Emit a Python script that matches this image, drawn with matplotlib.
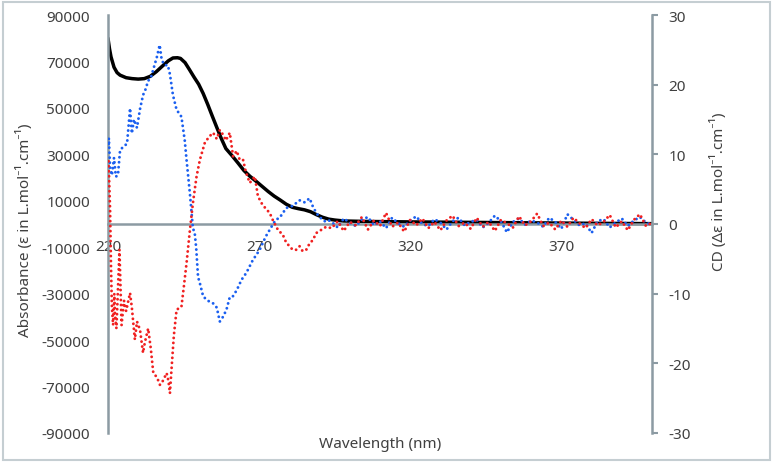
import matplotlib.pyplot as plt
from matplotlib.patches import Rectangle

plt.rcParams['font.family'] = ['Noto Sans', 'DejaVu Sans']
plt.rcParams['axes.unicode_minus'] = False

# absorbance (left axis)
abs_wl = [220, 220.5, 221, 222, 223, 224, 226, 228, 230, 232, 234, 236, 238, 240,
          241.5, 243, 244, 245.5, 247, 248.5, 250, 251.5, 253, 254.5, 256, 257.5,
          259, 261, 263, 265, 267, 269, 271, 273, 275, 277, 279, 281, 283, 285,
          287, 289, 291, 293, 295, 298, 305, 320, 340, 360, 380, 400]
abs_val = [80000, 75500, 72000, 67500, 65200, 64100, 63000, 62600, 62400, 62600,
           63600, 65600, 68000, 70300, 71500, 71600, 71300, 69500, 66400, 63200,
           60200, 56200, 51500, 46500, 41600, 36800, 32500, 29500, 26300, 23000,
           20500, 18400, 16200, 14000, 12000, 10300, 8500, 7200, 6600, 6100, 5300,
           4000, 2900, 2100, 1700, 1300, 1100, 900, 700, 500, 300, 150]

# CD, blue trace (right axis)
blue_wl = [220.2, 220.3, 220.7, 221.3, 222, 222.6, 223.3, 224, 225.3, 226.3, 226.8,
           227.3, 227.9, 228.6, 229.6, 230.6, 231.6, 232.6, 233.2, 234.2, 235.2,
           236.2, 237.1, 237.8, 238.8, 239.8, 240.5, 241.5, 242.7, 244.3, 245.4,
           246, 247.1, 248.1, 248.7, 249.2, 249.8, 250.4, 251.5, 253, 254.8, 256,
           257, 258.1, 259.2, 260.3, 261.3, 262.6, 264.2, 265.8, 267.9, 270.2,
           272.2, 274.1, 275.5, 276.8, 279, 281.1, 283.4, 285.1, 286.7, 287.7,
           288.9, 290, 291.7, 292.7]
blue_cd = [11.5, 12.3, 8.0, 7.0, 9.5, 6.8, 7.0, 10.6, 11.2, 11.5, 14.0, 16.6, 13.0,
           15.0, 13.8, 16.5, 18.5, 19.5, 20.5, 21.0, 22.5, 24.0, 25.7, 23.5, 22.8,
           22.8, 21.5, 18.5, 16.4, 15.4, 12.0, 9.2, 4.4, -0.6, -1.3, -3.5, -7.6,
           -8.5, -10.4, -11.0, -11.4, -12.0, -14.0, -13.3, -12.3, -10.5, -10.4,
           -9.5, -8.0, -7.0, -5.2, -3.7, -1.8, -0.4, 0.6, 0.9, 2.3, 2.6, 3.4, 3.1,
           3.7, 2.6, 1.6, 1.0, 0.4, 0.6]

# CD, red trace (right axis)
red_wl = [220.2, 220.7, 221, 221.3, 221.7, 222.1, 222.3, 222.8, 223.8, 224.5, 225.3,
          226, 227.3, 227.9, 228.9, 229.6, 230.6, 231.6, 232.2, 233.3, 234.2, 235,
          236.2, 237.2, 238.2, 239.4, 240, 240.5, 241, 241.8, 242.7, 244.3, 245.1,
          246, 247.1, 248.1, 249.3, 250.4, 252, 253.4, 254.8, 256, 257, 258.1, 259,
          260.3, 261.4, 262.6, 263.6, 264.7, 265.6, 266.9, 268.6, 269.6, 270.8,
          272.2, 273.5, 274.5, 276.3, 277.8, 279, 280.1, 281.1, 282.3, 283.4,
          284.4, 285.6, 286.7, 287.8, 288.9, 290, 292.2]
red_cd = [9.0, 2.0, -6.0, -12.0, -14.5, -10.0, -13.0, -15.0, -3.7, -14.5, -11.0,
          -12.5, -9.9, -12.0, -16.6, -14.0, -15.2, -18.5, -17.0, -15.0, -18.0,
          -21.4, -22.0, -23.1, -22.5, -21.4, -22.5, -24.3, -21.0, -16.0, -12.3,
          -11.9, -9.0, -5.6, -0.9, 3.0, 6.8, 9.2, 11.6, 12.5, 13.1, 12.2, 13.5,
          12.8, 12.0, 13.1, 9.7, 10.5, 9.2, 9.2, 7.5, 5.9, 6.8, 4.0, 3.0, 2.2, 1.6,
          0.6, -0.9, -1.5, -2.7, -3.2, -3.7, -3.7, -3.2, -3.9, -3.7, -2.8, -2.3,
          -1.3, -1.0, -0.4]

# flat, noisy tail of both CD traces
tail_wl = list(range(294, 401, 2))
blue_tail = [0.3, -0.5, 0.8, 0.2, -0.3, 0.6, 1.0, -0.2, 0.4, -0.6, 0.9, 0.1, -0.4,
             0.5, 1.1, 0.0, -0.3, 0.7, 0.2, -0.8, 0.4, 0.9, -0.2, 0.3, 0.6, -0.5,
             0.2, 1.2, 0.4, -1.2, 0.3, 0.8, -0.1, 0.5, 0.2, -0.4, 0.9, 0.3, -0.7,
             1.4, 0.6, -0.2, 0.1, -1.3, 0.4, 0.7, -0.5, 0.2, 0.8, -0.3, 0.5, 1.0,
             0.2, -0.1]
red_tail = [-0.6, 0.4, -1.0, 0.3, -0.2, 1.0, -0.8, 0.5, -0.3, 1.6, -0.4, 0.2, -1.1,
            0.6, -0.2, 0.8, -0.6, 0.3, -0.9, 0.5, 1.2, -0.3, 0.2, -0.7, 0.9, -0.4,
            0.3, -1.0, 0.6, 0.1, -0.5, 1.1, -0.2, 0.4, 1.5, -0.3, 0.2, -0.8, 0.5,
            -0.4, 0.9, 0.1, -0.6, 0.7, -0.2, 0.3, 1.3, -0.5, 0.4, -0.9, 0.6, 1.4,
            -0.3, 0.2]

left_ticks = [-90000, -70000, -50000, -30000, -10000, 10000, 30000, 50000, 70000, 90000]
right_ticks = [-30, -20, -10, 0, 10, 20, 30]
x_ticks = [220, 270, 320, 370]

axis_col = '#8c9ba3'
text_col = '#404040'

fig = plt.figure(figsize=(7.74, 4.64), dpi=100)
ax = fig.add_axes([0.1395, 0.0647, 0.7029, 0.9008])
ax2 = ax.twinx()

ax.plot(abs_wl, abs_val, color='black', lw=2.5, solid_capstyle='round')

dots = (0, (0.01, 1.7))
ax2.plot(blue_wl + tail_wl, blue_cd + blue_tail, color='#1a5ff0', lw=2.1,
         linestyle=dots, dash_capstyle='round')
ax2.plot(red_wl + tail_wl, red_cd + red_tail, color='#f02020', lw=2.1,
         linestyle=dots, dash_capstyle='round')

ax.set_xlim(220, 400)
ax.set_ylim(-90000, 90000)
ax2.set_ylim(-30, 30)
ax.set_xticks(x_ticks)
ax.set_yticks(left_ticks)
ax2.set_yticks(right_ticks)

for s in ['top', 'right']:
    ax.spines[s].set_visible(False)
for s in ['top', 'left', 'bottom']:
    ax2.spines[s].set_visible(False)
ax.spines['bottom'].set_position(('data', 0))
ax.spines['bottom'].set_color(axis_col)
ax.spines['left'].set_color(axis_col)
ax2.spines['right'].set_color(axis_col)
for s in [ax.spines['bottom'], ax.spines['left'], ax2.spines['right']]:
    s.set_linewidth(1.8)

ax.tick_params(axis='y', length=0, pad=13, labelsize=11, labelcolor=text_col)
ax.tick_params(axis='x', length=0, pad=11, labelsize=11, labelcolor=text_col)
ax2.tick_params(axis='y', length=4, width=1.5, color=axis_col, pad=8,
                labelsize=11, labelcolor=text_col)

fig.text(25 / 774, 1 - 230 / 464, 'Absorbance (ε in L.mol⁻¹.cm⁻¹)', rotation=90,
         ha='center', va='center', fontsize=11, color=text_col)
fig.text(718 / 774, 1 - 192 / 464, 'CD (Δε in L.mol⁻¹.cm⁻¹)', rotation=90,
         ha='center', va='center', fontsize=11, color=text_col)
fig.text(380 / 774, 1 - 445 / 464, 'Wavelength (nm)', ha='center', va='center',
         fontsize=11, color=text_col)

fig.patches.append(Rectangle((0.004, 0.006), 0.991, 0.988, transform=fig.transFigure,
                             fill=False, ec='#c5ced2', lw=1.5))

fig.savefig('out.png', dpi=100)
